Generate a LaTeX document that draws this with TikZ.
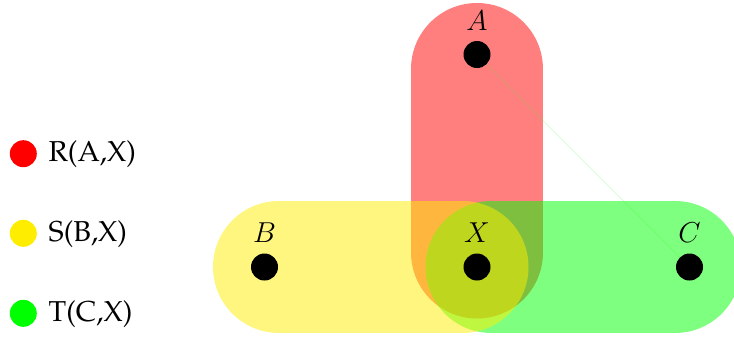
\documentclass[tikz,border=0pt]{standalone}
\usepackage[T1,TU]{fontenc}
\definecolor{hyred}{RGB}{255,0,0}
\definecolor{hyyellow}{RGB}{255,237,0}
\definecolor{hygreen}{RGB}{0,255,0}
\begin{document}
\begin{tikzpicture}[x=0.5pt,y=-0.5pt,
  vtx/.style={circle,fill=black,inner sep=0pt,minimum size=13.5pt},
  lbl/.style={font=\Large,anchor=base,inner sep=0pt},
  hedge/.style={line width=66pt,line cap=round,draw opacity=0.5,shorten <=7.25pt,shorten >=7.25pt},
  legdot/.style={circle,inner sep=0pt,minimum size=13.5pt},
  legtxt/.style={anchor=base west,inner sep=0pt,font=\Large\fontencoding{T1}\fontfamily{ppl}\selectfont}]
\useasboundingbox (0,0) rectangle (734,338);
\clip (0,0) rectangle (734,338);
\coordinate (cA) at (477,54.5);
\coordinate (cX) at (477,267);
\coordinate (cB) at (264.5,267);
\coordinate (cC) at (689.5,267);
% hyperedges
\draw[hedge,hyred] (cA) -- (cX);
\draw[hedge,hygreen] (cC) -- (cX);
\draw[hedge,hyyellow] (cB) -- (cX);
\draw[hygreen,opacity=0.15,line width=0.5pt] (cA) -- (cC);
% vertices
\node[vtx] (A) at (cA) {};
\node[vtx] (X) at (cX) {};
\node[vtx] (B) at (cB) {};
\node[vtx] (C) at (cC) {};
\node[lbl] (lA) at (477,30) {$A$};
\node[lbl] (lX) at (477,242.5) {$X$};
\node[lbl] (lB) at (264.5,242.5) {$B$};
\node[lbl] (lC) at (689.5,242.5) {$C$};
% legend
\node[legdot,fill=hyred] (dr) at (23.3,153.7) {};
\node[legdot,fill=hyyellow] (dy) at (23.3,233.3) {};
\node[legdot,fill=hygreen] (dg) at (23.3,313.3) {};
\node[legtxt] (tr) at (48.3,161.7) {R(A,X)};
\node[legtxt] (ty) at (48.3,241.7) {S(B,X)};
\node[legtxt] (tg) at (48.3,321.7) {T(C,X)};
\end{tikzpicture}
\end{document}
